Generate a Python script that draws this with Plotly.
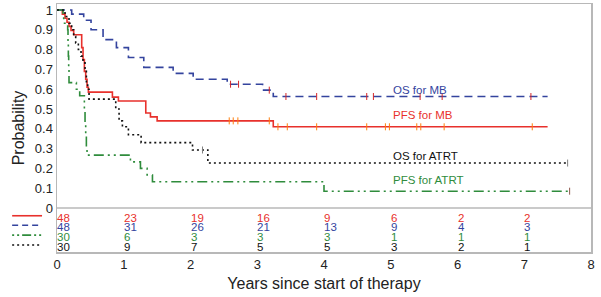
import plotly.graph_objects as go

# ---- data ----
pfs_mb_t = [0, 0.08, 0.12, 0.15, 0.18, 0.21, 0.25, 0.37, 0.39, 0.41, 0.43, 0.45, 0.47, 0.83, 0.92, 1.33, 1.40, 1.50, 3.24, 7.35]
pfs_mb_s = [1, 0.979, 0.958, 0.938, 0.917, 0.896, 0.875, 0.81, 0.75, 0.69, 0.65, 0.61, 0.585, 0.56, 0.54, 0.48, 0.46, 0.44, 0.41, 0.41]
pfs_mb_cens = [2.58, 2.64, 2.71, 3.18, 3.31, 3.45, 3.89, 4.64, 4.92, 4.98, 5.39, 5.45, 5.80, 7.12]

os_mb_t = [0, 0.22, 0.40, 0.51, 0.69, 0.89, 1.07, 1.30, 1.74, 2.04, 2.55, 3.08, 3.24, 7.35]
os_mb_s = [1, 0.979, 0.948, 0.90, 0.85, 0.81, 0.76, 0.71, 0.68, 0.65, 0.625, 0.595, 0.563, 0.563]
os_mb_cens = [2.60, 2.72, 3.18, 3.43, 3.89, 4.64, 4.74, 5.44, 5.77, 7.10]

pfs_atrt_t = [0, 0.09, 0.10, 0.16, 0.165, 0.17, 0.175, 0.18, 0.29, 0.34, 0.41, 0.42, 0.43, 0.44, 0.45, 1.10, 1.25, 1.35, 1.43, 4.00, 7.68]
pfs_atrt_s = [1, 0.967, 0.933, 0.90, 0.833, 0.767, 0.70, 0.633, 0.60, 0.567, 0.50, 0.433, 0.367, 0.30, 0.267, 0.233, 0.20, 0.167, 0.133, 0.085, 0.085]
pfs_atrt_cens = [7.68]

os_atrt_t = [0, 0.12, 0.18, 0.22, 0.25, 0.28, 0.32, 0.36, 0.39, 0.42, 0.44, 0.46, 0.48, 0.88, 0.93, 0.98, 1.07, 1.26, 2.03, 2.26, 7.65]
os_atrt_s = [1, 0.967, 0.933, 0.90, 0.867, 0.833, 0.80, 0.767, 0.733, 0.70, 0.633, 0.60, 0.55, 0.50, 0.44, 0.41, 0.37, 0.33, 0.293, 0.227, 0.227]
os_atrt_cens = [2.18, 7.65]

risk_years = [0, 1, 2, 3, 4, 5, 6, 7]
risk_pfs_mb = [48, 23, 19, 16, 9, 6, 2, 2]
risk_os_mb = [48, 31, 26, 21, 13, 9, 4, 3]
risk_pfs_atrt = [30, 6, 3, 3, 3, 1, 1, 1]
risk_os_atrt = [30, 9, 7, 5, 5, 3, 2, 1]

labels = ["OS for MB", "PFS for MB", "OS for ATRT", "PFS for ATRT"]
x_ticks = [0, 1, 2, 3, 4, 5, 6, 7, 8]
y_ticks = [0, 0.1, 0.2, 0.3, 0.4, 0.5, 0.6, 0.7, 0.8, 0.9, 1]
y_ticktext = ["0", "0.1", "0.2", "0.3", "0.4", "0.5", "0.6", "0.7", "0.8", "0.9", "1"]

RED = "#e8312c"
BLUE = "#34449e"
GREEN = "#2f8c3c"
BLACK = "#111111"
FRAME = "#b8b8b8"
FONT = "Liberation Sans, Arial, sans-serif"


def surv_at(ts, ss, t):
    v = ss[0]
    for ti, si in zip(ts, ss):
        if ti <= t:
            v = si
    return v


fig = go.Figure()

series = [
    (pfs_mb_t, pfs_mb_s, pfs_mb_cens, RED, "solid"),
    (os_mb_t, os_mb_s, os_mb_cens, BLUE, "8px,5px"),
    (pfs_atrt_t, pfs_atrt_s, pfs_atrt_cens, GREEN, "10px,4px,2px,4px,2px,4px"),
    (os_atrt_t, os_atrt_s, os_atrt_cens, BLACK, "2px,3px"),
]

for ts, ss, cens, col, dash in series:
    fig.add_trace(go.Scatter(x=ts, y=ss, mode="lines", line=dict(color=col, width=1.6, dash=dash, shape="hv"),
                             showlegend=False, hoverinfo="skip"))
    fig.add_trace(go.Scatter(x=cens, y=[surv_at(ts, ss, c) for c in cens], mode="markers",
                             marker=dict(symbol="line-ns-open", size=5, line=dict(color=col, width=1)),
                             showlegend=False, hoverinfo="skip"))

# curve labels
label_pos = [(5.0, 0.596, BLUE), (5.0, 0.47, RED), (5.0, 0.263, BLACK), (5.0, 0.141, GREEN)]
for txt, (lx, ly, col) in zip(labels, label_pos):
    fig.add_annotation(x=lx, y=ly, text=txt, showarrow=False, xanchor="left", yanchor="middle",
                       font=dict(family=FONT, size=11.5, color=col))

# risk table
row_y = [-0.049, -0.097, -0.147, -0.197]
rows = [(risk_pfs_mb, RED, "solid"), (risk_os_mb, BLUE, "6px,4px"),
        (risk_pfs_atrt, GREEN, "2px,3px,2px,3px,9px,3px"), (risk_os_atrt, BLACK, "2px,3px")]
for (vals, col, dash), ry in zip(rows, row_y):
    for xv, v in zip(risk_years, vals):
        fig.add_annotation(x=xv, y=ry, text=str(v), showarrow=False, xanchor="left", yanchor="middle",
                           xshift=-1, borderpad=0, font=dict(family=FONT, size=11.5, color=col))
    fig.add_shape(type="line", xref="paper", yref="y", x0=-0.084, x1=-0.028, y0=ry + 0.01, y1=ry + 0.01,
                  line=dict(color=col, width=1.6, dash=dash))

# separator between curves and risk table
fig.add_shape(type="line", xref="paper", yref="y", x0=0, x1=1, y0=0, y1=0,
              line=dict(color=FRAME, width=1.5))

fig.update_layout(
    template="none",
    width=601, height=297,
    margin=dict(l=57, r=10, t=4, b=45),
    paper_bgcolor="white", plot_bgcolor="white",
    font=dict(family=FONT, color="#222222"),
    hovermode=False,
    xaxis=dict(range=[0, 8], tickvals=x_ticks, showgrid=False, zeroline=False, automargin=False,
               showline=True, mirror=True, linecolor=FRAME, linewidth=1.5, ticks="",
               tickfont=dict(size=13, family=FONT, color="#222222"),
               title=dict(text="Years since start of therapy", font=dict(size=16, family=FONT, color="#222222"),
                          standoff=6)),
    yaxis=dict(range=[-0.222, 1.03], tickvals=y_ticks, ticktext=y_ticktext, showgrid=False, zeroline=False,
               automargin=False,
               showline=True, mirror=True, linecolor=FRAME, linewidth=1.5, ticks="",
               tickfont=dict(size=13, family=FONT, color="#222222"),
               title=dict(text="Probability", font=dict(size=16, family=FONT, color="#222222"), standoff=6)),
)

fig.write_html("out.html", config={"displayModeBar": False, "staticPlot": True},
               post_script="document.body.style.margin='0';document.body.style.padding='0';")
